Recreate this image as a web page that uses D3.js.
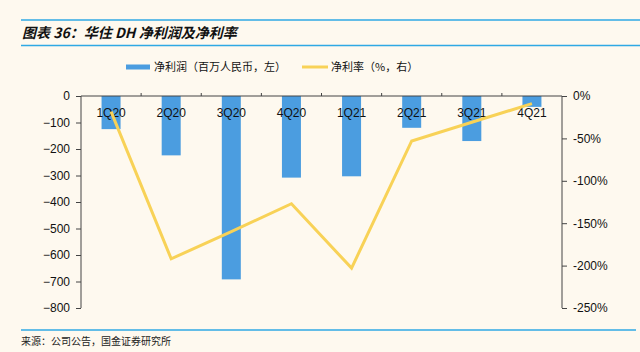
<!DOCTYPE html>
<html>
<head>
<meta charset="utf-8">
<script src="https://cdn.jsdelivr.net/npm/d3@7"></script>
<style>
  body { margin: 0; background: #fef9ef; }
  svg { display: block; }
</style>
</head>
<body>
<div id="chart"></div>
<script>
const quarters = ["1Q20", "2Q20", "3Q20", "4Q20", "1Q21", "2Q21", "3Q21", "4Q21"];
const netProfit = [-125, -224, -692, -308, -303, -120, -170, -41];
const netMargin = [-18.5, -192, -160, -127, -203, -53, -31, -9];
const leftTicks = [0, -100, -200, -300, -400, -500, -600, -700, -800];
const rightTicks = [0, -50, -100, -150, -200, -250];

const w = 640, h = 352;
const margin = {top: 96, right: 78, bottom: 44, left: 81};
const font = "'Liberation Sans', Arial, sans-serif";
const cjk = "'Noto Sans CJK SC', sans-serif";

const svg = d3.select("#chart").append("svg")
    .attr("width", w).attr("height", h);

svg.append("rect").attr("width", w).attr("height", h).attr("fill", "#fef9ef");

// header / footer rules
[20, 45.5].forEach(y => {
    svg.append("line").attr("x1", 21).attr("x2", 640).attr("y1", y).attr("y2", y)
        .attr("stroke", "#2fa9e4").attr("stroke-width", 1.5);
});
svg.append("line").attr("x1", 21).attr("x2", 636).attr("y1", 330).attr("y2", 330)
    .attr("stroke", "#2fa9e4").attr("stroke-width", 1.5);

svg.append("text")
    .attr("x", 22).attr("y", 38)
    .style("font-family", cjk)
    .style("font-size", "14px")
    .style("font-weight", "bold")
    .style("font-style", "italic")
    .attr("fill", "#111")
    .text("图表 36：华住 DH 净利润及净利率");

svg.append("text")
    .attr("x", 21).attr("y", 345)
    .style("font-family", cjk)
    .style("font-size", "10px")
    .attr("fill", "#222")
    .text("来源：公司公告，国金证券研究所");

const x0 = margin.left, x1 = w - margin.right;
const yTop = margin.top, yBot = h - margin.bottom;

let x = d3.scaleBand().domain(quarters).range([x0, x1]).paddingInner(0).paddingOuter(0);
let yL = d3.scaleLinear().domain([-800, 0]).range([yBot, yTop]);
let yR = d3.scaleLinear().domain([-250, 0]).range([yBot, yTop]);

// bars
svg.selectAll("rect.bar")
    .data(quarters)
    .enter()
    .append("rect")
    .attr("class", "bar")
    .attr("x", d => x(d) + x.bandwidth() / 2 - 9.5)
    .attr("width", 19)
    .attr("y", yL(0))
    .attr("height", (d, i) => yL(netProfit[i]) - yL(0))
    .attr("fill", "#4b9de0");

// left axis
const axL = svg.append("g")
    .attr("transform", `translate(${x0},0)`)
    .call(d3.axisLeft(yL).tickValues(leftTicks).tickSize(5).tickPadding(6).tickFormat(d3.format("d")));
// right axis
const axR = svg.append("g")
    .attr("transform", `translate(${x1},0)`)
    .call(d3.axisRight(yR).tickValues(rightTicks).tickSize(5).tickPadding(6).tickFormat(d => d + "%"));
[axL, axR].forEach(a => {
    a.select(".domain").attr("d", `M0,${yTop}V${yBot}`);
    a.selectAll("path, line").attr("stroke", "#444");
    a.selectAll("text").style("font-family", font).style("font-size", "12px").attr("fill", "#111");
});

// top category axis
const axT = svg.append("g").attr("transform", `translate(0,${yTop})`);
axT.append("line").attr("x1", x0).attr("x2", x1).attr("stroke", "#444");
axT.selectAll("line.tk")
    .data(quarters.slice(1))
    .enter().append("line")
    .attr("class", "tk")
    .attr("x1", d => x(d)).attr("x2", d => x(d))
    .attr("y1", 0).attr("y2", -3)
    .attr("stroke", "#444");
axT.selectAll("text")
    .data(quarters)
    .enter().append("text")
    .attr("x", d => x(d) + x.bandwidth() / 2)
    .attr("y", 21)
    .attr("text-anchor", "middle")
    .style("font-family", font)
    .style("font-size", "12px")
    .attr("fill", "#111")
    .text(d => d);

// line
svg.append("path")
    .datum(netMargin)
    .attr("d", d3.line()
        .x((d, i) => x(quarters[i]) + x.bandwidth() / 2)
        .y(d => yR(d)))
    .attr("fill", "none")
    .attr("stroke", "#f8d257")
    .attr("stroke-width", 3);

// legend
const lg = svg.append("g").attr("transform", "translate(0,67)");
lg.append("rect").attr("x", 126).attr("y", -2.5).attr("width", 24).attr("height", 5).attr("fill", "#4b9de0");
lg.append("text").attr("x", 154).attr("y", 4)
    .style("font-family", cjk).style("font-size", "11px").attr("fill", "#111")
    .text("净利润（百万人民币，左）");
lg.append("line").attr("x1", 302).attr("x2", 328).attr("y1", 0).attr("y2", 0)
    .attr("stroke", "#f8d257").attr("stroke-width", 3);
lg.append("text").attr("x", 331).attr("y", 4)
    .style("font-family", cjk).style("font-size", "11px").attr("fill", "#111")
    .text("净利率（%，右）");
</script>
</body>
</html>
